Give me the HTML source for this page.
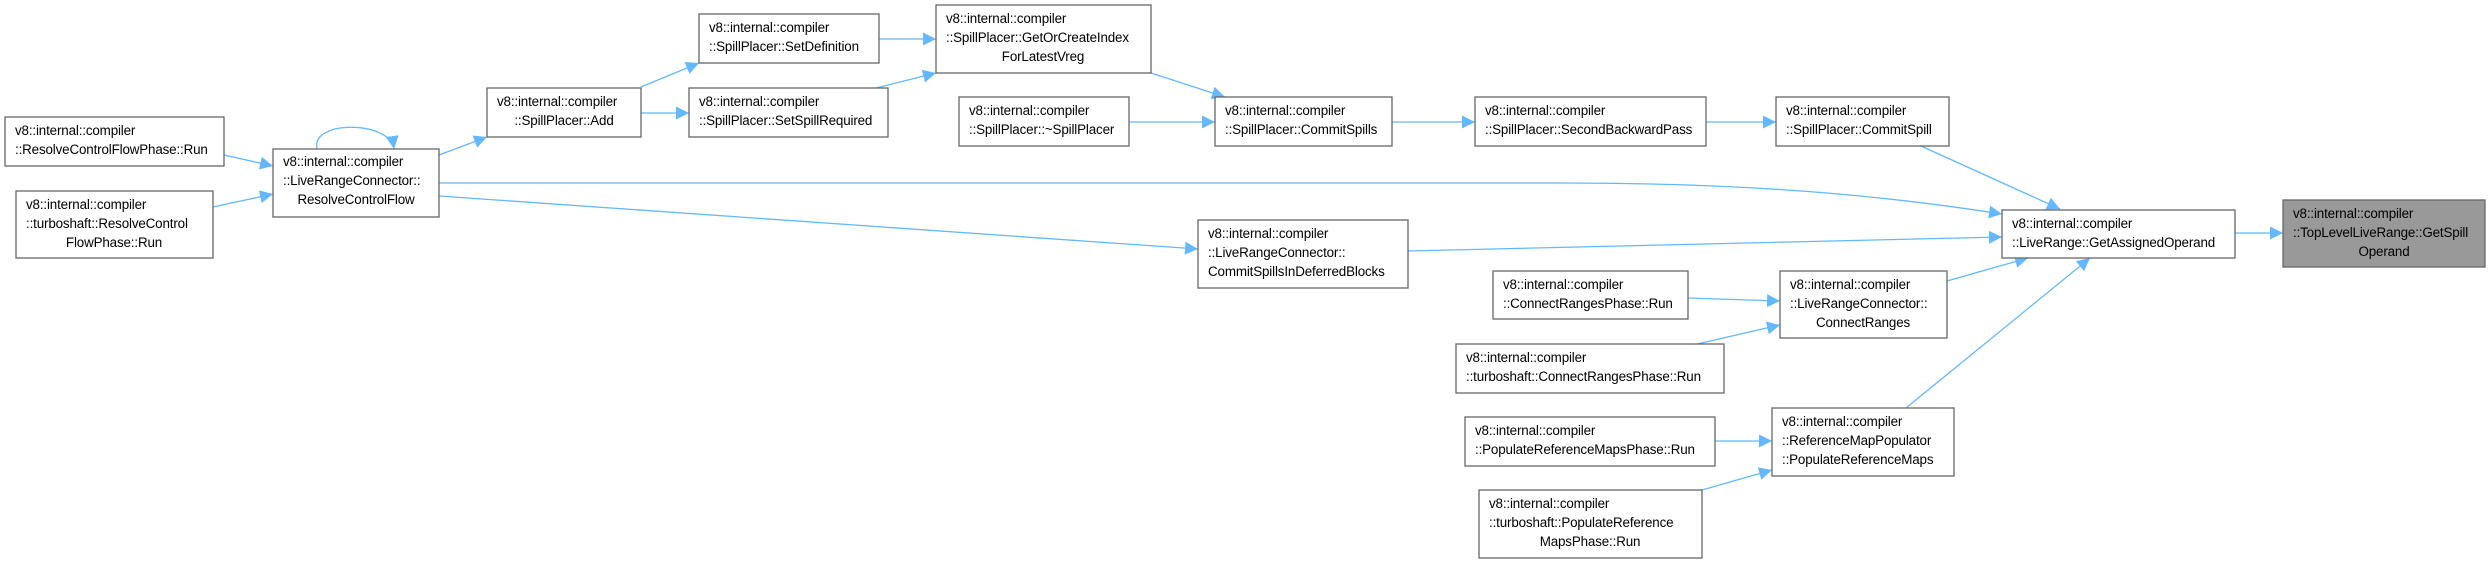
<!DOCTYPE html>
<html><head><meta charset="utf-8"><style>
html,body{margin:0;padding:0;background:#fff;}
svg{display:block;}
text{font-family:"Liberation Sans","DejaVu Sans",sans-serif;font-size:13.4px;letter-spacing:-0.15px;fill:#000;}
.n{fill:#fff;stroke:#666;stroke-width:1.3;}
.e{fill:none;stroke:#63b8ff;stroke-width:1.3;}
</style></head><body>
<svg width="2492" height="564" viewBox="0 0 2492 564" xmlns="http://www.w3.org/2000/svg">
<defs><marker id="a" viewBox="0 0 10 10" refX="10" refY="5" markerWidth="13" markerHeight="13" markerUnits="userSpaceOnUse" orient="auto"><path d="M0,0 L10,5 L0,10 z" fill="#63b8ff"/></marker></defs>

<path class="e" marker-end="url(#a)" d="M224,155 L273,166"/>
<path class="e" marker-end="url(#a)" d="M213,207 L273,194"/>
<path class="e" marker-end="url(#a)" d="M317,149 C310,120 390,120 394,149"/>
<path class="e" marker-end="url(#a)" d="M439,155 L487,137"/>
<path class="e" marker-end="url(#a)" d="M641,87 L699,63"/>
<path class="e" marker-end="url(#a)" d="M641,113 L689,113"/>
<path class="e" marker-end="url(#a)" d="M879,39 L936,39"/>
<path class="e" marker-end="url(#a)" d="M876,88 L936,73"/>
<path class="e" marker-end="url(#a)" d="M1151,73 L1225,97"/>
<path class="e" marker-end="url(#a)" d="M1129,122 L1215,122"/>
<path class="e" marker-end="url(#a)" d="M1392,122 L1475,122"/>
<path class="e" marker-end="url(#a)" d="M1706,122 L1776,122"/>
<path class="e" marker-end="url(#a)" d="M1921,146 L2060,209"/>
<path class="e" marker-end="url(#a)" d="M439,183 L1560,183 C1750,183 1880,195 2002,214"/>
<path class="e" marker-end="url(#a)" d="M439,196 L1198,249"/>
<path class="e" marker-end="url(#a)" d="M1408,251 L2002,237"/>
<path class="e" marker-end="url(#a)" d="M1688,298 L1780,301"/>
<path class="e" marker-end="url(#a)" d="M1697,344 L1780,325"/>
<path class="e" marker-end="url(#a)" d="M1947,281 L2028,258"/>
<path class="e" marker-end="url(#a)" d="M1906,408 L2090,258"/>
<path class="e" marker-end="url(#a)" d="M1715,441 L1772,441"/>
<path class="e" marker-end="url(#a)" d="M1702,490 L1772,470"/>
<path class="e" marker-end="url(#a)" d="M2235,233 L2283,233"/>

<rect class="n" x="5" y="117" width="219" height="49"/>
<text x="15" y="135">v8::internal::compiler</text><text x="15" y="154">::ResolveControlFlowPhase::Run</text>

<rect class="n" x="16" y="191" width="197" height="67"/>
<text x="26" y="209">v8::internal::compiler</text><text x="26" y="228">::turboshaft::ResolveControl</text><text x="114" y="247" text-anchor="middle">FlowPhase::Run</text>

<rect class="n" x="273" y="149" width="166" height="68"/>
<text x="283" y="166">v8::internal::compiler</text><text x="283" y="185">::LiveRangeConnector::</text><text x="356" y="204" text-anchor="middle">ResolveControlFlow</text>

<rect class="n" x="487" y="88" width="154" height="49"/>
<text x="497" y="106">v8::internal::compiler</text><text x="564" y="125" text-anchor="middle">::SpillPlacer::Add</text>

<rect class="n" x="699" y="14" width="180" height="49"/>
<text x="709" y="32">v8::internal::compiler</text><text x="709" y="51">::SpillPlacer::SetDefinition</text>

<rect class="n" x="689" y="88" width="199" height="49"/>
<text x="699" y="106">v8::internal::compiler</text><text x="699" y="125">::SpillPlacer::SetSpillRequired</text>

<rect class="n" x="936" y="5" width="215" height="68"/>
<text x="946" y="23">v8::internal::compiler</text><text x="946" y="42">::SpillPlacer::GetOrCreateIndex</text><text x="1043" y="61" text-anchor="middle">ForLatestVreg</text>

<rect class="n" x="959" y="97" width="170" height="49"/>
<text x="969" y="115">v8::internal::compiler</text><text x="969" y="134">::SpillPlacer::~SpillPlacer</text>

<rect class="n" x="1215" y="97" width="177" height="49"/>
<text x="1225" y="115">v8::internal::compiler</text><text x="1225" y="134">::SpillPlacer::CommitSpills</text>

<rect class="n" x="1475" y="97" width="231" height="49"/>
<text x="1485" y="115">v8::internal::compiler</text><text x="1485" y="134">::SpillPlacer::SecondBackwardPass</text>

<rect class="n" x="1776" y="97" width="173" height="49"/>
<text x="1786" y="115">v8::internal::compiler</text><text x="1786" y="134">::SpillPlacer::CommitSpill</text>

<rect class="n" x="1198" y="220" width="210" height="68"/>
<text x="1208" y="238">v8::internal::compiler</text><text x="1208" y="257">::LiveRangeConnector::</text><text x="1208" y="276">CommitSpillsInDeferredBlocks</text>

<rect class="n" x="2002" y="210" width="233" height="48"/>
<text x="2012" y="228">v8::internal::compiler</text><text x="2012" y="247">::LiveRange::GetAssignedOperand</text>

<rect x="2283" y="200" width="202" height="67" fill="#999" stroke="#666" stroke-width="1.3"/>
<text x="2293" y="218">v8::internal::compiler</text><text x="2293" y="237">::TopLevelLiveRange::GetSpill</text><text x="2384" y="256" text-anchor="middle">Operand</text>

<rect class="n" x="1493" y="271" width="195" height="48"/>
<text x="1503" y="289">v8::internal::compiler</text><text x="1503" y="308">::ConnectRangesPhase::Run</text>

<rect class="n" x="1780" y="271" width="167" height="67"/>
<text x="1790" y="289">v8::internal::compiler</text><text x="1790" y="308">::LiveRangeConnector::</text><text x="1863" y="327" text-anchor="middle">ConnectRanges</text>

<rect class="n" x="1456" y="344" width="268" height="49"/>
<text x="1466" y="362">v8::internal::compiler</text><text x="1466" y="381">::turboshaft::ConnectRangesPhase::Run</text>

<rect class="n" x="1465" y="417" width="250" height="49"/>
<text x="1475" y="435">v8::internal::compiler</text><text x="1475" y="454">::PopulateReferenceMapsPhase::Run</text>

<rect class="n" x="1772" y="408" width="182" height="68"/>
<text x="1782" y="426">v8::internal::compiler</text><text x="1782" y="445">::ReferenceMapPopulator</text><text x="1782" y="464">::PopulateReferenceMaps</text>

<rect class="n" x="1479" y="490" width="223" height="68"/>
<text x="1489" y="508">v8::internal::compiler</text><text x="1489" y="527">::turboshaft::PopulateReference</text><text x="1590" y="546" text-anchor="middle">MapsPhase::Run</text>
</svg>
</body></html>
